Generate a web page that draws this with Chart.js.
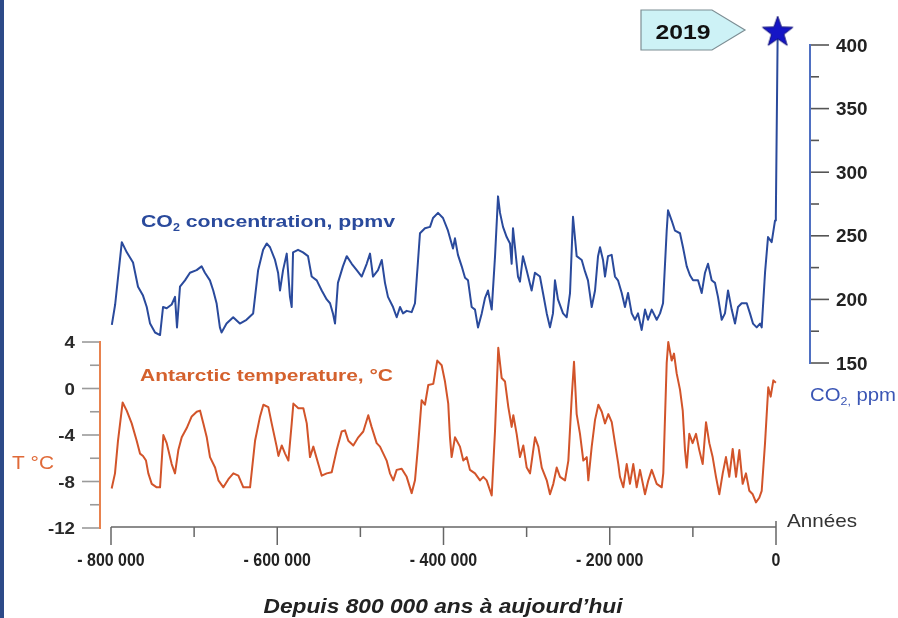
<!DOCTYPE html>
<html>
<head>
<meta charset="utf-8">
<script src="https://cdn.jsdelivr.net/npm/chart.js@4.4.0/dist/chart.umd.min.js"></script>
<style>
  body { margin: 0; background: #fff; }
  canvas { display: block; }
</style>
</head>
<body>
<canvas id="chart" width="898" height="618"></canvas>
<script>
// CO2 record, age in thousands of years before present
const co2Age = [
  799, 795, 787, 781, 773.5, 767.5, 761.5, 757, 753, 747,
  741, 737.4, 733, 727, 723, 720.6, 717, 711, 705, 697,
  691, 687, 681, 677, 673, 669, 667, 661, 653, 645,
  637, 629, 623, 617, 612.7, 608.7, 602.7, 599, 596.7, 593,
  588.6, 584.7, 582.6, 581, 575, 569, 563, 558.6, 552.5, 546.5,
  540.5, 536.5, 533, 530.5, 527, 521, 516.4, 510.4, 504.4, 498.4,
  492.4, 488.4, 484.8, 478.8, 474.3, 470.4, 466.8, 460.7, 456.3, 452.3,
  448.7, 444.3, 438.3, 434.3, 428.3, 422.3, 416.2, 412.6, 406.6, 400.6,
  394.6, 388.6, 386.2, 382.6, 378.1, 374.1, 370.5, 366.1, 362.1, 358.5,
  354, 350.1, 346.5, 342, 338, 334.4, 332, 328.4, 324, 320,
  318, 316.4, 314, 310.4, 308, 304.4, 300, 294, 290, 284,
  280.3, 275.8, 271.9, 268.3, 265.9, 262.3, 256.2, 251.8, 247.8, 244.2,
  239.8, 233.7, 229.8, 226.2, 221.7, 217.7, 214.1, 211.7, 208.1, 205.7,
  202.1, 197.7, 193.7, 190.1, 185.6, 181.7, 178, 173.6, 169.6, 166,
  161.6, 157.6, 154, 149.5, 143.5, 139.5, 135.9, 131.5, 129.9, 125.5,
  121.5, 115.5, 111.9, 107.4, 103.5, 99.8, 93.8, 89.4, 85.4, 81.8,
  77.4, 73.4, 69.8, 65.3, 61.4, 57.7, 53.3, 49.3, 45.7, 41.3,
  35.2, 31.3, 27.7, 23.2, 19.2, 17.2, 13.2, 9.6, 5.2, 1.2,
  0.2
];
const co2Ppm = [
  180, 196, 245, 237, 229, 210, 203, 194, 181, 174,
  172, 194, 193, 196, 202, 178, 210, 215, 221, 223,
  226, 221, 215, 207, 197, 178, 174, 181, 186, 181,
  184, 189, 223, 239, 244, 241, 231, 221, 207, 223,
  236, 202, 194, 237, 239, 237, 234, 218, 215, 207,
  200, 197, 189, 181, 213, 226, 234, 228, 223, 218,
  228, 236, 218, 223, 231, 213, 202, 194, 186, 194,
  189, 191, 190, 197, 252, 256, 257, 264, 268, 264,
  254, 240, 248, 235, 226, 217, 215, 194, 192, 178,
  189, 201, 207, 192, 234, 281, 268, 257, 249, 244,
  228, 256, 241, 218, 214, 234, 223, 207, 221, 218,
  205, 189, 178, 189, 215, 200, 189, 186, 205, 265,
  234, 231, 222, 215, 194, 207, 234, 241, 231, 218,
  234, 235, 218, 215, 205, 194, 205, 189, 184, 189,
  176, 192, 184, 192, 184, 189, 197, 254, 270, 262,
  254, 252, 241, 226, 219, 215, 215, 205, 221, 228,
  215, 213, 202, 184, 189, 207, 192, 181, 194, 197,
  197, 189, 181, 178, 181, 178, 221, 249, 245, 262,
  266
];

// Antarctic temperature anomaly, age in thousands of years before present
const tempAge = [
  799.2, 795.2, 791.6, 786, 781.1, 775.1, 769.1, 765.1, 761.5, 757.9,
  755.1, 751, 745, 741, 737, 733, 727, 723, 719, 714.9,
  708.9, 702.9, 696.9, 692.9, 688.9, 684.8, 680.9, 674.8, 670.8, 664.8,
  658.8, 652.8, 646.8, 640.8, 632.7, 626.7, 620.7, 616.7, 610.7, 606.7,
  600.7, 598.6, 594.6, 590.6, 586.6, 582.6, 580.6, 574.6, 568.6, 564.5,
  560.6, 556.6, 550.6, 546.5, 540.5, 534.5, 528.5, 522.5, 518.5, 514.5,
  508.5, 502.5, 496.5, 490.5, 486.5, 480.4, 476.4, 472.4, 468.4, 464.4,
  460.4, 456.3, 450.3, 444.3, 438.3, 434.3, 430.7, 426.3, 422.3, 418.3,
  412.3, 407.5, 402.2, 398.2, 394.3, 392.2, 390.2, 386.2, 380.2, 376.2,
  372.1, 368.2, 362.1, 356.1, 352.1, 348.1, 342, 338, 334.1, 330,
  326, 322, 318, 316, 312, 308, 304, 299.9, 295.9, 289.9,
  285.9, 281.8, 275.8, 271.9, 267.9, 263.8, 259.8, 253.8, 249.8, 245.7,
  243, 239.8, 235.8, 231.8, 227.7, 225.8, 221.7, 217.7, 213.7, 209.6,
  205.7, 201.7, 197.6, 193.7, 189.7, 187.7, 183.7, 179.6, 175.7, 171.7,
  167.6, 163.6, 157.6, 153.6, 149.5, 143.5, 137.5, 135.6, 131.5, 129.6,
  125.5, 122.7, 119.5, 115.5, 112.2, 109.5, 107.4, 104.3, 100.3, 96.2,
  92.3, 88.2, 84.2, 80.2, 76.2, 72.2, 68.2, 64.1, 60.2, 56.2,
  52.1, 48.1, 44.1, 40.1, 36.1, 32.1, 28, 24.1, 20.1, 17.2,
  13.2, 9.3, 6.4, 3.2, 0.2
];
const tempC = [
  -8.6, -7.3, -4.5, -1.2, -1.9, -3.0, -4.5, -5.6, -5.8, -6.2,
  -7.3, -8.2, -8.5, -8.5, -4.0, -4.7, -6.5, -7.3, -5.3, -4.2,
  -3.4, -2.4, -2.0, -1.9, -3.0, -4.2, -5.9, -6.8, -7.9, -8.5,
  -7.8, -7.3, -7.5, -8.5, -8.5, -4.5, -2.4, -1.4, -1.6, -3.0,
  -5.0, -5.8, -4.9, -5.6, -6.2, -3.0, -1.3, -1.7, -1.7, -3.0,
  -5.9, -5.0, -6.5, -7.5, -7.3, -7.2, -5.3, -3.7, -3.6, -4.5,
  -4.9, -4.2, -3.7, -2.3, -3.3, -4.7, -5.0, -5.6, -6.2, -7.3,
  -7.9, -7.0, -6.9, -7.6, -9.0, -7.9, -5.0, -1.0, -1.4, 0.3,
  0.4, 2.4, 2.0, 0.6, -1.3, -4.2, -5.9, -4.2, -5.0, -6.2,
  -5.9, -7.0, -7.3, -7.9, -7.6, -7.9, -9.2, -3.6, 3.5, 0.9,
  0.6, -1.6, -3.3, -2.3, -3.9, -5.9, -4.9, -6.8, -7.3, -4.2,
  -5.0, -6.8, -7.9, -9.1, -8.2, -6.8, -7.6, -7.9, -6.2, -0.7,
  2.3, -2.2, -3.9, -6.2, -5.9, -7.9, -5.0, -2.7, -1.4, -2.0,
  -3.0, -2.2, -2.9, -4.7, -6.5, -7.6, -8.5, -6.5, -8.2, -6.5,
  -8.5, -7.0, -9.1, -7.9, -7.0, -8.2, -8.5, -7.3, 2.2, 4.0,
  2.4, 3.0, 1.3, -0.1, -1.9, -5.3, -6.8, -3.9, -4.7, -3.9,
  -5.3, -6.5, -2.9, -4.7, -5.9, -7.6, -9.1, -7.3, -5.9, -7.6,
  -5.2, -7.6, -5.3, -8.2, -7.3, -8.8, -9.1, -9.8, -9.4, -8.8,
  -4.7, 0.1, -0.7, 0.7, 0.5
];

// 2019 measurement
const starYear = 2019;
const starPpm = 410;

const yearTicks = [-800000, -600000, -400000, -200000, 0];
const yearMinorTicks = [-700000, -500000, -300000, -100000];
const yearTickLabels = ["- 800 000", "- 600 000", "- 400 000", "- 200 000", "0"];
const tempTicks = [4, 0, -4, -8, -12];
const tempMinorTicks = [2, -2, -6, -10];
const co2Ticks = [400, 350, 300, 250, 200, 150];
const co2MinorTicks = [375, 325, 275, 225, 175];

const BLUE = "#2a4a9c";
const ORANGE = "#d2542a";
const SANS = '"Liberation Sans", Arial, sans-serif';

const co2Points = co2Age.map((a, i) => ({ x: -a * 1000, y: co2Ppm[i] }));
co2Points.push({ x: starYear, y: starPpm });
const tempPoints = tempAge.map((a, i) => ({ x: -a * 1000, y: tempC[i] }));

function makeStar() {
  const c = document.createElement("canvas");
  c.width = 36;
  c.height = 36;
  const g = c.getContext("2d");
  g.beginPath();
  for (let i = 0; i < 10; i++) {
    const r = i % 2 === 0 ? 16 : 6.5;
    const a = -Math.PI / 2 + (i * Math.PI) / 5;
    g.lineTo(18 + r * Math.cos(a), 18 + r * Math.sin(a));
  }
  g.closePath();
  g.fillStyle = "#1515c6";
  g.fill();
  g.strokeStyle = "#0b0b78";
  g.lineWidth = 1;
  g.stroke();
  return c;
}

function line(ctx, x1, y1, x2, y2) {
  ctx.beginPath();
  ctx.moveTo(x1, y1);
  ctx.lineTo(x2, y2);
  ctx.stroke();
}

// draws text made of pieces (for subscripts), stretched horizontally
function drawRich(ctx, parts, x, y, color, align, opts) {
  let natural = 0;
  parts.forEach((p) => {
    ctx.font = p.font;
    natural += ctx.measureText(p.text).width;
  });
  const sx = opts.width ? opts.width / natural : opts.sx || 1;
  let start = x;
  if (align === "center") start = x - (natural * sx) / 2;
  else if (align === "right") start = x - natural * sx;
  ctx.save();
  ctx.translate(start, y);
  ctx.scale(sx, 1);
  ctx.fillStyle = color;
  ctx.textAlign = "left";
  ctx.textBaseline = "alphabetic";
  let cx = 0;
  parts.forEach((p) => {
    ctx.font = p.font;
    ctx.fillText(p.text, cx, p.dy || 0);
    cx += ctx.measureText(p.text).width;
  });
  ctx.restore();
}

const axesPlugin = {
  id: "axes",
  beforeDatasetsDraw(chart) {
    const ctx = chart.ctx;
    const xs = chart.scales.x;
    const yT = chart.scales.yT;
    const yC = chart.scales.yC;
    ctx.save();
    ctx.lineCap = "butt";

    // frame strip on the left
    ctx.fillStyle = "#2d4a88";
    ctx.fillRect(0, 0, 4, chart.height);

    // temperature axis
    const tx = 100;
    ctx.strokeStyle = "#9a9a9a";
    ctx.lineWidth = 1.6;
    tempTicks.forEach((v) => line(ctx, 82, yT.getPixelForValue(v), tx, yT.getPixelForValue(v)));
    tempMinorTicks.forEach((v) => line(ctx, 90, yT.getPixelForValue(v), tx, yT.getPixelForValue(v)));
    ctx.strokeStyle = "#e8824e";
    ctx.lineWidth = 2;
    line(ctx, tx, yT.getPixelForValue(4) - 1, tx, yT.getPixelForValue(-12) + 1);
    tempTicks.forEach((v) =>
      drawRich(ctx, [{ text: String(v), font: "bold 17px " + SANS }], 75, yT.getPixelForValue(v) + 6, "#2a2a2a", "right", { sx: 1.1 })
    );

    // CO2 axis
    const cx = 810;
    ctx.strokeStyle = "#555";
    ctx.lineWidth = 1.6;
    co2Ticks.forEach((v) => line(ctx, cx, yC.getPixelForValue(v), cx + 19, yC.getPixelForValue(v)));
    co2MinorTicks.forEach((v) => line(ctx, cx, yC.getPixelForValue(v), cx + 9, yC.getPixelForValue(v)));
    ctx.strokeStyle = "#4f70c2";
    ctx.lineWidth = 2;
    line(ctx, cx, yC.getPixelForValue(400) - 1, cx, yC.getPixelForValue(150) + 1);
    co2Ticks.forEach((v) =>
      drawRich(ctx, [{ text: String(v), font: "bold 18px " + SANS }], 836, yC.getPixelForValue(v) + 6.5, "#222", "left", { sx: 1.05 })
    );

    // time axis
    const ay = chart.chartArea.bottom - 1;
    ctx.strokeStyle = "#666";
    ctx.lineWidth = 1.5;
    line(ctx, xs.getPixelForValue(-800000), ay, xs.getPixelForValue(0), ay);
    yearTicks.forEach((v) => line(ctx, xs.getPixelForValue(v), ay, xs.getPixelForValue(v), ay + 18));
    yearMinorTicks.forEach((v) => line(ctx, xs.getPixelForValue(v), ay, xs.getPixelForValue(v), ay + 10));
    line(ctx, xs.getPixelForValue(0), ay - 6, xs.getPixelForValue(0), ay);
    yearTicks.forEach((v, i) =>
      drawRich(ctx, [{ text: yearTickLabels[i], font: "bold 19px " + SANS }], xs.getPixelForValue(v), 566, "#222", "center", { sx: 0.84 })
    );
    ctx.restore();
  },
  afterDraw(chart) {
    const ctx = chart.ctx;
    // series labels
    drawRich(ctx, [
      { text: "CO", font: "bold 17px " + SANS },
      { text: "2", font: "bold 10px " + SANS, dy: 4 },
      { text: " concentration, ppmv", font: "bold 17px " + SANS }
    ], 141, 227, BLUE, "left", { width: 254 });
    drawRich(ctx, [
      { text: "Antarctic temperature, °C", font: "bold 17px " + SANS }
    ], 140, 381, "#d4612d", "left", { width: 253 });

    // axis titles
    drawRich(ctx, [{ text: "T °C", font: "18px " + SANS }], 12, 469, "#e06a38", "left", { width: 42 });
    drawRich(ctx, [
      { text: "CO", font: "18px " + SANS },
      { text: "2,", font: "11px " + SANS, dy: 4 },
      { text: " ppm", font: "18px " + SANS }
    ], 810, 401, "#3a55b5", "left", { width: 86 });
    drawRich(ctx, [{ text: "Années", font: "19px " + SANS }], 787, 527, "#333", "left", { width: 70 });
    drawRich(ctx, [{ text: "Depuis 800 000 ans à aujourd’hui", font: "italic bold 20px " + SANS }], 443, 613, "#222", "center", { width: 359 });

    // 2019 callout
    ctx.save();
    ctx.beginPath();
    ctx.moveTo(641, 10);
    ctx.lineTo(712, 10);
    ctx.lineTo(745, 30);
    ctx.lineTo(712, 50);
    ctx.lineTo(641, 50);
    ctx.closePath();
    ctx.fillStyle = "#cdf2f6";
    ctx.fill();
    ctx.strokeStyle = "#7d8e94";
    ctx.lineWidth = 1.2;
    ctx.stroke();
    ctx.restore();
    drawRich(ctx, [{ text: "2019", font: "bold 21px " + SANS }], 683, 39, "#111", "center", { width: 55 });
  }
};

new Chart(document.getElementById("chart"), {
  type: "line",
  data: {
    datasets: [
      {
        label: "Antarctic temperature",
        data: tempPoints,
        yAxisID: "yT",
        borderColor: ORANGE,
        borderWidth: 2,
        pointRadius: 0,
        tension: 0,
        borderJoinStyle: "round",
        clip: false
      },
      {
        label: "CO2",
        data: co2Points,
        yAxisID: "yC",
        borderColor: BLUE,
        borderWidth: 2,
        pointRadius: 0,
        tension: 0,
        borderJoinStyle: "round",
        clip: false
      },
      {
        label: "2019",
        data: [{ x: starYear, y: starPpm }],
        yAxisID: "yC",
        showLine: false,
        pointStyle: makeStar(),
        pointRadius: 16,
        order: -1,
        clip: false
      }
    ]
  },
  options: {
    responsive: false,
    animation: false,
    events: [],
    layout: { padding: { left: 111, right: 122, top: 45, bottom: 90 } },
    plugins: { legend: { display: false }, tooltip: { enabled: false } },
    scales: {
      x: { type: "linear", min: -800000, max: 0, display: false },
      // ranges chosen so 4..-12 °C and 400..150 ppm sit where the reference draws them
      yT: { type: "linear", min: -12, max: 29.55, display: false },
      yC: { type: "linear", min: 20.3, max: 400, display: false }
    }
  },
  plugins: [axesPlugin]
});
</script>
</body>
</html>
